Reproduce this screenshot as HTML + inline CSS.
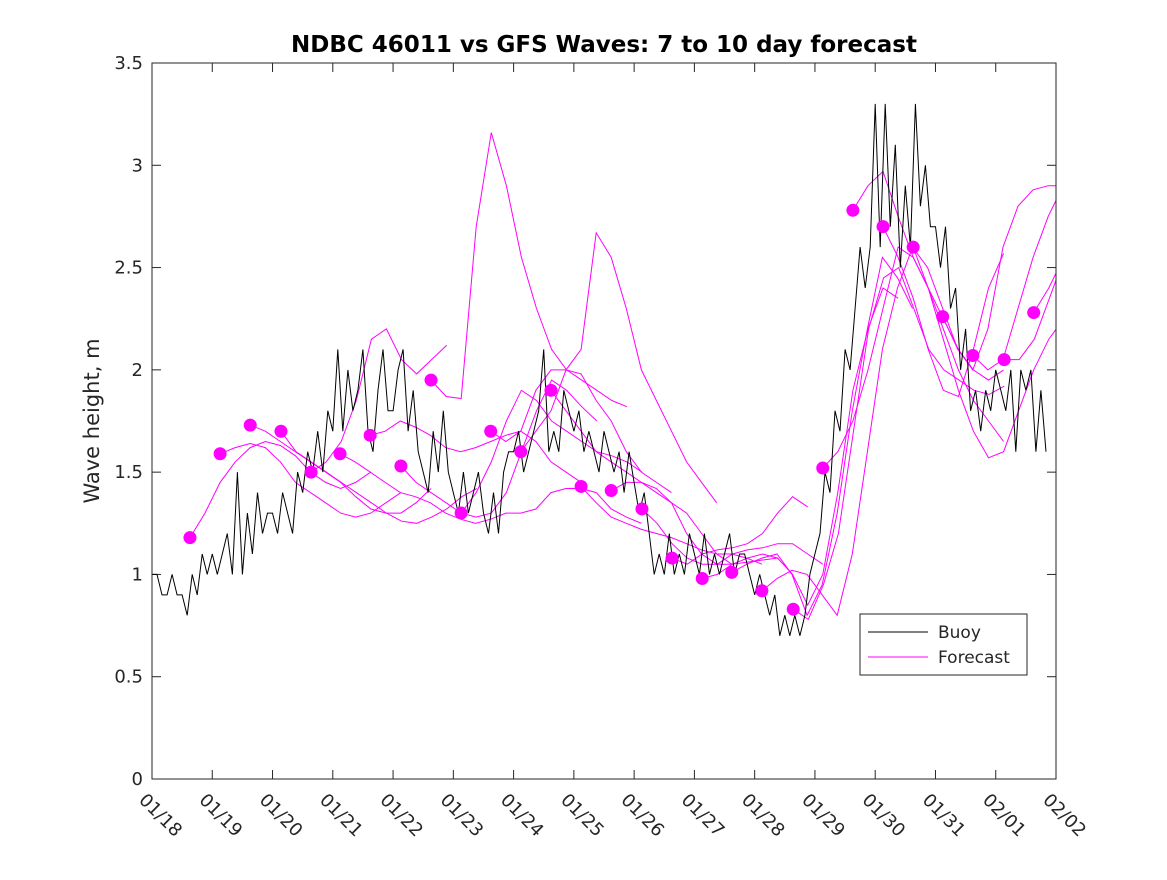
<!DOCTYPE html>
<html><head><meta charset="utf-8"><style>
body{margin:0;background:#fff}
svg text{font-family:"DejaVu Sans","Liberation Sans",sans-serif;fill:#262626}
</style></head><body>
<svg id="chart" width="1167" height="875" viewBox="0 0 1167 875" xmlns="http://www.w3.org/2000/svg">
<defs><clipPath id="plotclip"><rect x="152" y="63" width="904" height="716"/></clipPath></defs>
<rect x="0" y="0" width="1167" height="875" fill="#fff"/>
<text x="604" y="52" text-anchor="middle" font-size="23" font-weight="bold" style="fill:#000">NDBC 46011 vs GFS Waves: 7 to 10 day forecast</text>
<text transform="translate(99,421) rotate(-90)" text-anchor="middle" font-size="21">Wave height, m</text>
<g id="axes"></g>
<g id="series" clip-path="url(#plotclip)"></g>
<rect x="152" y="63" width="904" height="716" fill="none" stroke="#262626" stroke-width="1"/>
<g>
<rect x="860" y="614" width="167" height="61" fill="#fff" stroke="#262626" stroke-width="1"/>
<line x1="868" y1="632" x2="928" y2="632" stroke="#000" stroke-width="1"/>
<text x="938" y="638" font-size="17">Buoy</text>
<line x1="868" y1="657" x2="928" y2="657" stroke="#ff00ff" stroke-width="1"/>
<text x="938" y="663" font-size="17">Forecast</text>
</g>
</svg>
<script>
const xTickLabels=["01/18","01/19","01/20","01/21","01/22","01/23","01/24","01/25","01/26","01/27","01/28","01/29","01/30","01/31","02/01","02/02"];
const yTickValues=[0,0.5,1,1.5,2,2.5,3,3.5];
const yTickLabels=["0","0.5","1","1.5","2","2.5","3","3.5"];
const buoyStep=1/12;
const buoyValues=[
1.0,1.0,0.9,0.9,1.0,0.9,0.9,0.8,1.0,0.9,1.1,1.0,
1.1,1.0,1.1,1.2,1.0,1.5,1.0,1.3,1.1,1.4,1.2,1.3,
1.3,1.2,1.4,1.3,1.2,1.5,1.4,1.6,1.5,1.7,1.5,1.8,
1.7,2.1,1.7,2.0,1.8,1.9,2.1,1.7,1.6,1.9,2.1,1.8,
1.8,2.0,2.1,1.7,1.9,1.6,1.5,1.4,1.7,1.5,1.8,1.5,
1.4,1.3,1.5,1.3,1.4,1.5,1.3,1.2,1.4,1.2,1.5,1.6,
1.6,1.7,1.5,1.6,1.7,1.8,2.1,1.6,1.7,1.6,1.9,1.8,
1.7,1.8,1.6,1.7,1.6,1.5,1.7,1.6,1.5,1.6,1.4,1.6,
1.45,1.3,1.4,1.2,1.0,1.1,1.0,1.2,1.0,1.1,1.0,1.2,
1.1,1.0,1.2,1.0,1.1,1.0,1.1,1.2,1.0,1.1,1.1,1.0,
0.9,1.0,0.9,0.8,0.9,0.7,0.8,0.7,0.8,0.7,0.8,1.0,
1.1,1.2,1.5,1.4,1.8,1.7,2.1,2.0,2.3,2.6,2.4,2.6,
3.3,2.6,3.3,2.7,3.1,2.5,2.9,2.6,3.3,2.8,3.0,2.7,
2.7,2.5,2.7,2.3,2.4,2.0,2.2,1.8,1.9,1.7,1.9,1.8,
2.0,1.9,1.8,2.0,1.6,2.0,1.9,2.0,1.6,1.9,1.6];
const dotDays=[0.63,1.13,1.63,2.14,2.64,3.12,3.62,4.13,4.63,5.13,5.62,6.12,6.62,7.12,7.62,8.13,8.63,9.13,9.62,10.12,10.64,11.13,11.63,12.13,12.63,13.12,13.62,14.14,14.63];
const dotValues=[1.18,1.59,1.73,1.70,1.50,1.59,1.68,1.53,1.95,1.30,1.70,1.60,1.90,1.43,1.41,1.32,1.08,0.98,1.01,0.92,0.83,1.52,2.78,2.70,2.60,2.26,2.07,2.05,2.28];
const fcStep=0.25;
const fcStart=[0.63,1.13,1.63,2.14,2.64,3.12,3.62,4.13,4.63,5.13,5.62,6.12,6.62,7.12,7.62,8.13,8.63,9.13,9.62,10.12,10.64,11.13,11.63,12.13,12.63,13.12,13.62,14.14,14.63];
const fcValues=[
[1.18,1.3,1.45,1.55,1.62,1.65,1.63,1.58,1.5,1.45,1.42,1.45,1.5],
[1.59,1.62,1.64,1.62,1.55,1.45,1.4,1.35,1.3,1.28,1.3,1.35,1.4],
[1.73,1.7,1.65,1.6,1.55,1.5,1.45,1.38,1.32,1.3,1.3,1.35,1.42],
[1.70,1.6,1.55,1.5,1.45,1.4,1.35,1.3,1.26,1.25,1.28,1.32,1.38,1.42],
[1.5,1.55,1.65,1.85,2.15,2.2,2.05,1.98,2.05,2.12],
[1.59,1.55,1.5,1.45,1.4,1.38,1.35,1.3,1.27,1.25,1.27,1.3,1.3,1.32,1.4,1.42,1.42,1.4,1.32,1.28,1.25],
[1.68,1.7,1.75,1.72,1.68,1.62,1.6,1.62,1.65,1.68,1.7,1.65,1.55,1.5,1.45],
[1.53,1.45,1.4,1.35,1.3,1.28,1.3,1.4,1.6,1.8,1.95,1.9,1.82,1.75],
[1.95,1.87,1.86,2.7,3.16,2.9,2.55,2.3,2.1,2.0,1.95,1.9,1.85,1.82],
[1.30,1.4,1.55,1.75,1.9,1.85,1.75,1.7,1.65,1.6,1.58,1.55,1.5],
[1.70,1.65,1.7,1.9,2.0,2.0,1.98,1.85,1.75,1.6,1.5,1.45,1.4],
[1.60,1.7,1.8,2.0,2.1,2.67,2.55,2.3,2.0,1.85,1.7,1.55,1.45,1.35],
[1.90,1.8,1.7,1.6,1.55,1.5,1.45,1.4,1.35,1.3,1.2,1.1,1.05],
[1.43,1.35,1.28,1.25,1.22,1.2,1.18,1.15,1.12,1.1,1.1,1.08,1.05],
[1.41,1.45,1.45,1.42,1.35,1.2,1.1,1.05,1.05,1.06,1.07,1.08],
[1.32,1.25,1.15,1.08,1.05,1.05,1.1,1.12,1.13,1.15,1.15,1.1,1.05],
[1.08,1.05,1.1,1.12,1.13,1.15,1.2,1.3,1.38,1.33],
[0.98,1.0,1.05,1.08,1.1,1.08,1.0,0.85,1.0,1.4,1.9,2.2,2.4,2.35],
[1.01,1.05,1.08,1.1,1.0,0.8,0.95,1.3,1.8,2.2,2.55,2.45,2.3],
[0.92,0.98,1.02,1.0,0.9,0.8,1.1,1.6,2.1,2.4,2.6,2.5,2.3,2.1],
[0.83,0.78,0.95,1.2,1.7,2.2,2.45,2.5,2.3,2.1,2.0,1.95,1.9,1.88,1.92],
[1.52,1.6,1.75,2.0,2.3,2.6,2.55,2.4,2.2,2.0,1.85,1.75,1.65],
[2.78,2.9,2.97,2.75,2.55,2.4,2.25,2.1,2.0,1.95,2.0],
[2.70,2.55,2.35,2.1,1.9,1.87,2.1,2.4,2.57],
[2.60,2.4,2.15,1.9,1.7,1.57,1.6,1.8,2.0,2.15,2.25],
[2.26,2.1,2.0,2.2,2.6,2.8,2.88,2.9,2.9],
[2.07,2.0,2.05,2.3,2.55,2.75,2.9,2.9],
[2.05,2.05,2.15,2.35,2.55,2.7],
[2.28,2.4,2.55]
];
const NS="http://www.w3.org/2000/svg";
const X0=152,X1=1056,Y0=779,Y1=63,DAYS=15,YMAX=3.5;
function xs(d){return X0+(X1-X0)*d/DAYS;}
function ys(v){return Y0-(Y0-Y1)*v/YMAX;}
function mk(t,a){const e=document.createElementNS(NS,t);for(const k in a)e.setAttribute(k,a[k]);return e;}
const axes=document.getElementById('axes'),series=document.getElementById('series');
xTickLabels.forEach((lab,i)=>{
  const x=xs(i);
  const t1=mk('line',{x1:x,y1:Y0,x2:x,y2:Y0-9,stroke:'#262626'});
  
  
  axes.appendChild(t1);
  const t2=mk('line',{x1:x,y1:Y1,x2:x,y2:Y1+9,stroke:'#262626'});
  
  
  axes.appendChild(t2);
  const tx=mk('text',{transform:`translate(${x-14},${Y0+22}) rotate(45)`,'font-size':'18'});
  tx.textContent=lab;
  
  
  axes.appendChild(tx);
});
yTickValues.forEach((v,i)=>{
  const y=ys(v);
  const t1=mk('line',{x1:X0,y1:y,x2:X0+9,y2:y,stroke:'#262626'});
  
  
  axes.appendChild(t1);
  const t2=mk('line',{x1:X1,y1:y,x2:X1-9,y2:y,stroke:'#262626'});
  
  
  axes.appendChild(t2);
  const tx=mk('text',{x:X0-9,y:y+6,'text-anchor':'end','font-size':'18'});
  tx.textContent=yTickLabels[i];
  
  
  axes.appendChild(tx);
});
fcValues.forEach((vals,i)=>{
  const pts=vals.map((v,j)=>xs(fcStart[i]+j*fcStep).toFixed(1)+','+ys(v).toFixed(1)).join(' ');
  const pl=mk('polyline',{points:pts,fill:'none',stroke:'#ff00ff','stroke-width':'1'});
  
  
  series.appendChild(pl);
});
{
  let d='';
  buoyValues.forEach((v,j)=>{const x=xs(j*buoyStep),y=ys(v);d+=(j?'L':'M')+x.toFixed(1)+','+y.toFixed(1);});
  const p=mk('path',{d:d,fill:'none',stroke:'#000','stroke-width':'1'});
  
  
  series.appendChild(p);
}
dotDays.forEach((d,i)=>{
  const c=mk('circle',{cx:xs(d),cy:ys(dotValues[i]),r:6.5,fill:'#ff00ff'});
  
  
  series.appendChild(c);
});
</script>
</body></html>
